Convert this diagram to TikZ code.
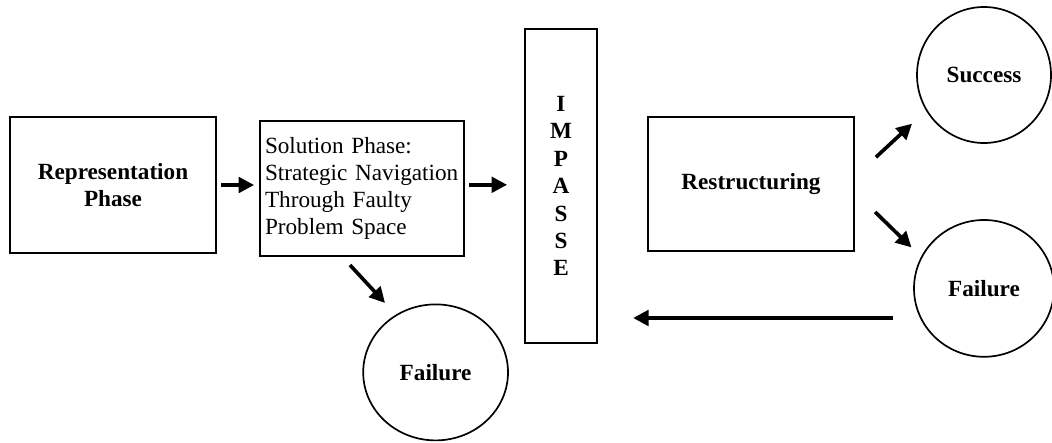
\documentclass[tikz,border=0pt]{standalone}
\usepackage{fontspec}
\setmainfont{Liberation Serif}
\usepackage{tikz}
\usetikzlibrary{shapes.geometric, arrows.meta, calc}

\begin{document}
\begin{tikzpicture}[
    phasebox/.style={rectangle, draw, line width=1.6pt, inner sep=0.1cm, align=center, font=\bfseries\fontsize{16.5}{19.5}\selectfont},
    outcome/.style={ellipse, draw, line width=1.2pt, inner sep=0pt, font=\bfseries\fontsize{16.5}{19.5}\selectfont},
    flow/.style={-{Triangle[length=11pt, width=11pt]}, line width=2.6pt}
]
    \useasboundingbox (0,0) rectangle (26.3,11.05);

    % Phases before the impasse
    \node (rep) [phasebox, minimum width=5.15cm, minimum height=3.4cm] at (2.825,6.425) {Representation\\Phase};
    \node (sol) [phasebox, minimum width=5.1cm, minimum height=3.375cm, text width=4.85cm, align=left, font=\fontsize{16.5}{19.2}\selectfont] at (9.05,6.34) {Solution Phase:\\Strategic Navigation\\Through Faulty\\Problem Space};

    % Impasse column
    \node (imp) [phasebox, minimum width=1.8cm, minimum height=7.85cm, text width=1cm] at (14.025,6.4) {I\\M\\P\\A\\S\\S\\E};

    % Restructuring and outcomes
    \node (res) [phasebox, minimum width=5.15cm, minimum height=3.35cm] at (18.775,6.45) {Restructuring};
    \node (succ) [outcome, minimum width=3.35cm, minimum height=3.4cm] at (24.6,9.175) {Success};
    \node (failr) [outcome, minimum width=3.5cm, minimum height=3.42cm] at (24.6,3.84) {Failure};
    \node (failb) [outcome, minimum width=3.62cm, minimum height=3.4cm] at (10.89,1.74) {Failure};

    \draw[flow, shorten <=0.1cm, shorten >=0.12cm] (rep.east) -- (rep.east -| sol.west);
    \draw[flow, shorten <=0.1cm, shorten >=0.42cm] ($(sol.east)+(0,0.09)$) coordinate (s1) -- (s1 -| imp.west);
    \draw[flow] ($(sol.south)+(-0.3,-0.2)$) -- ($(failb.north west)+(0.03,0.52)$);
    \draw[flow] ($(res.east)+(0.52,0.67)$) -- ($(succ.south west)+(-0.6,0)$);
    \draw[flow] ($(res.east)+(0.5,-0.7)$) -- ($(failr.north west)+(-0.56,-0.2)$);

    % back to the impasse
    \draw[flow, shorten >=0.875cm] ($(failr.west)+(-0.5,-0.74)$) coordinate (f1) -- (f1 -| imp.east);
\end{tikzpicture}
\end{document}
